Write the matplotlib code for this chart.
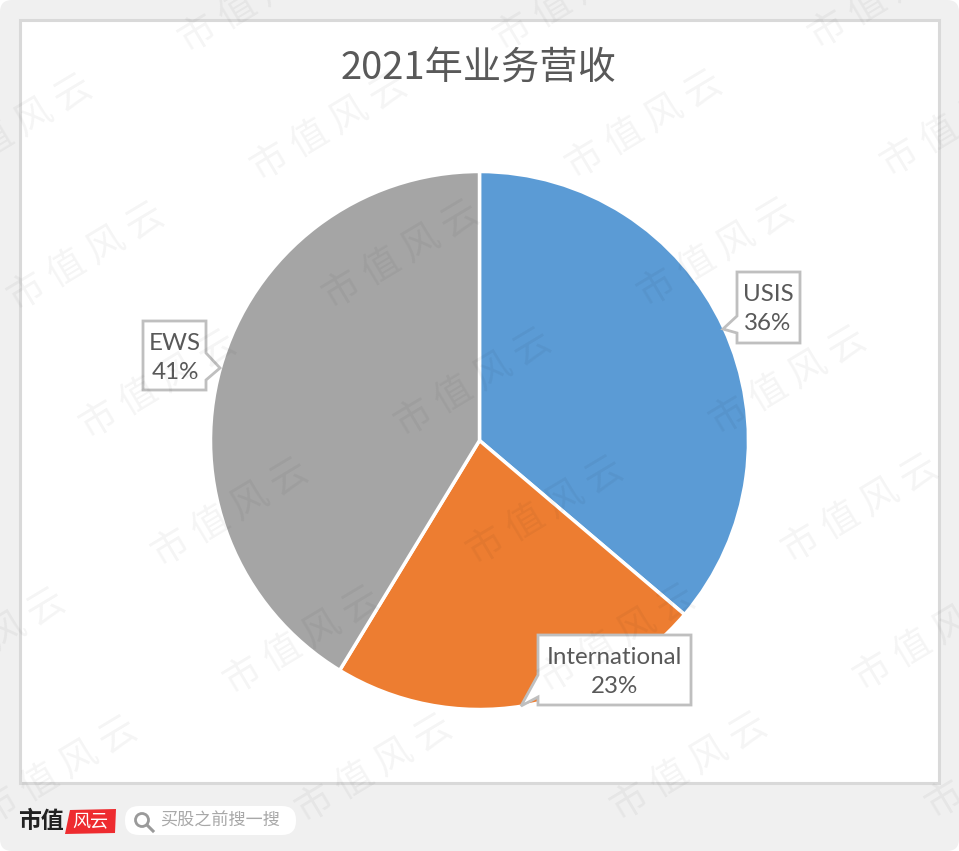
import matplotlib
matplotlib.use("Agg")
import matplotlib.pyplot as plt
from matplotlib.patches import Circle, FancyBboxPatch, Polygon, Rectangle

plt.rcParams["font.family"] = ["Noto Sans CJK SC", "DejaVu Sans"]

title = "2021年业务营收"
segments = ["USIS", "International", "EWS"]
shares = [36.2, 22.5, 41.3]
share_labels = ["36%", "23%", "41%"]
colors = ["#5B9BD5", "#ED7D31", "#A5A5A5"]

# callout outlines in image pixels, box first then pointer
callouts = {
    "USIS": [(737, 272), (800, 272), (800, 343), (737, 343), (737, 333), (723, 329), (737, 316)],
    "International": [(538, 635), (691, 635), (691, 705), (538, 705), (538, 697), (521, 706), (538, 675)],
    "EWS": [(143, 321), (206, 321), (206, 353), (220, 368), (206, 380), (206, 390), (143, 390)],
}
label_pos = {"USIS": (768, 309), "International": (614, 672), "EWS": (175, 358)}

fig = plt.figure(figsize=(9.59, 8.51), dpi=100)
fig.patch.set_facecolor("white")
ax = fig.add_axes([0, 0, 1, 1])
ax.set_xlim(0, 959)
ax.set_ylim(851, 0)
ax.axis("off")

# page and chart frame
ax.add_patch(FancyBboxPatch((0, 0), 959, 851, boxstyle="round,pad=0,rounding_size=12",
                            fc="#F0F0F0", ec="none", zorder=0))
ax.add_patch(Rectangle((20, 20), 919, 763, fc="white", ec="#D9D9D9", lw=2.2, zorder=1))

ax.text(478, 69, title, ha="center", va="center", fontsize=27.5, color="#595959", zorder=6)

wedges, _ = ax.pie(shares, colors=colors, startangle=90, counterclock=False,
                   center=(479.5, 440.5), radius=269, frame=True,
                   wedgeprops={"edgecolor": "white", "linewidth": 2.5, "zorder": 3})
ax.set_xlim(0, 959)
ax.set_ylim(851, 0)
ax.set_aspect("auto")
# y axis is flipped, so mirror wedges back to clockwise from the top
for w in wedges:
    t1, t2 = w.theta1, w.theta2
    w.set_theta1(-t2)
    w.set_theta2(-t1)
    w.set_zorder(3)

for name, share in zip(segments, share_labels):
    ax.add_patch(Polygon(callouts[name], closed=True, fc="white", ec="#BFBFBF", lw=2, zorder=4))
    x, y = label_pos[name]
    ax.text(x, y, f"{name}\n{share}", ha="center", va="center", fontsize=17.4,
            family=["Lato", "DejaVu Sans"], color="#595959", linespacing=1.47, zorder=5)

# footer logo and search pill
ax.text(18, 822, "市值", ha="left", va="center", fontsize=16.5, fontweight="bold",
        family=["Noto Sans CJK SC"], color="#222222", zorder=5)
ax.add_patch(Polygon([(70, 810), (116, 809), (115, 833), (65, 834)], closed=True,
                     fc="#EE2B2F", ec="none", zorder=4))
ax.text(90, 821, "风云", ha="center", va="center", fontsize=13, style="italic",
        family=["Noto Sans CJK SC"], color="white", zorder=5)
ax.add_patch(FancyBboxPatch((125, 806), 171, 29, boxstyle="round,pad=0,rounding_size=14",
                            fc="white", ec="none", zorder=4))
ax.add_patch(Circle((142, 820), 6.5, fc="none", ec="#9A9A9A", lw=2, zorder=5))
ax.plot([147, 153], [825, 831], color="#9A9A9A", lw=2.2, zorder=5)
ax.text(160, 821, "买股之前搜一搜", ha="left", va="center", fontsize=12.3, color="#A8A8A8", zorder=5)

# repeating watermark
for row in range(-1, 7):
    for col in range(-3, 4):
        cx = 330 + col * 315 + row * 72
        cy = 128 + row * 128 + col * -2
        if -70 < cx < 1030 and -35 < cy < 885:
            ax.text(cx, cy, "市 值 风 云", ha="center", va="center", rotation=31,
                    rotation_mode="anchor", fontsize=27, color="#000000", alpha=0.045,
                    zorder=7, clip_on=True)

fig.savefig("out.png", dpi=100)
